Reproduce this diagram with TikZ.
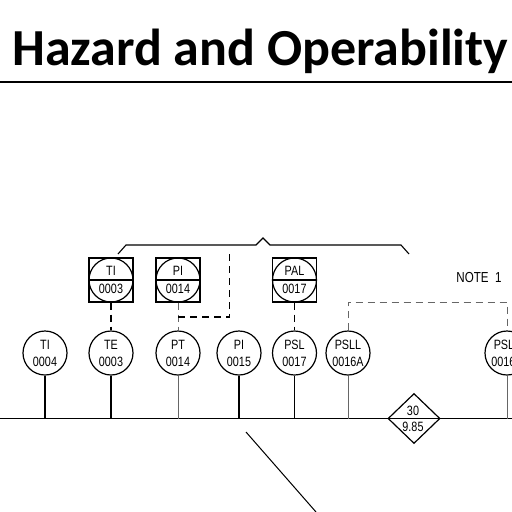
\documentclass[tikz,border=0pt]{standalone}
\usepackage{fontspec}
\setmainfont{Liberation Sans}
\newfontfamily\titlefont{Carlito}[BoldFont=Carlito Bold]
\usetikzlibrary{shapes.geometric}
\newcommand{\tagtext}[2]{\scalebox{0.8}[1]{#1}\\\scalebox{0.8}[1]{#2}}
\tikzset{
  x=1pt,y=-1pt,
  inst/.style={circle,draw,line width=1.2pt,minimum size=44pt,inner sep=0pt,align=center,font=\fontsize{13.5}{17}\selectfont},
  panel/.style={rectangle,draw,line width=1.3pt,minimum size=44pt,inner sep=0pt},
  panelinst/.style={inst,font=\fontsize{13.5}{18}\selectfont},
  stem/.style={line width=1.05pt},
  thinstem/.style={line width=0.8pt,black!60},
  sig/.style={line width=1.05pt,dash pattern=on 7pt off 5pt},
  thinsig/.style={line width=0.9pt,black!60,dash pattern=on 7pt off 5pt},
  bus/.style={line width=1.9pt},
  brace/.style={line width=1.1pt}
}
\begin{document}
\begin{tikzpicture}
\useasboundingbox (0,0) rectangle (512,512);
\clip (0,0) rectangle (512,512);
\node[anchor=base west,inner sep=0pt,font=\titlefont\bfseries\fontsize{52}{52}\selectfont] (title) at (12,65) {Hazard and Operability};
\coordinate (ruleL) at (0,82);
\coordinate (ruleR) at (512,82);
\draw[line width=2.4pt] (ruleL) -- (ruleR);

\coordinate (busL) at (0,418.5);
\coordinate (busR) at (512,418.5);

% field instruments
\node[inst] (ti4) at (45,353) {\tagtext{TI}{0004}};
\node[inst] (te3) at (111,353) {\tagtext{TE}{0003}};
\node[inst] (pt14) at (178,353) {\tagtext{PT}{0014}};
\node[inst] (pi15) at (239,353) {\tagtext{PI}{0015}};
\node[inst] (psl17) at (294.5,353) {\tagtext{PSL}{0017}};
\node[inst] (psll1) at (348,353) {\tagtext{PSLL}{0016A}};
\node[inst] (psll2) at (507,353) {\tagtext{PSLL}{0016B}};

% panel instruments
\node[panel] (sq1) at (111,280) {};
\node[panelinst] (pti3) at (111,280) {\tagtext{TI}{0003}};
\node[panel] (sq2) at (178,280) {};
\node[panelinst] (ppi14) at (178,280) {\tagtext{PI}{0014}};
\node[panel] (sq3) at (294.5,280) {};
\node[panelinst] (ppal17) at (294.5,280) {\tagtext{PAL}{0017}};
\draw[line width=1.5pt] (pti3.west) -- (pti3.east);
\draw[line width=1.5pt] (ppi14.west) -- (ppi14.east);
\draw[line width=1.5pt] (ppal17.west) -- (ppal17.east);

% bus and diamond
\draw[bus] (busL) -- (busR);
\node[diamond,draw,line width=1.2pt,minimum width=52pt,minimum height=50pt,inner sep=0pt,aspect=1] (dia) at (414,418.5) {};
\node[font=\fontsize{13.5}{13.5}\selectfont,inner sep=0pt] (dtop) at (413,411) {\scalebox{0.8}[1]{30}};
\node[font=\fontsize{13.5}{13.5}\selectfont,inner sep=0pt] (dbot) at (413,427) {\scalebox{0.8}[1]{9.85}};

% stems
\draw[stem] (ti4.south) -- (ti4.south |- busL);
\draw[stem] (te3.south) -- (te3.south |- busL);
\draw[thinstem] (pt14.south) -- (pt14.south |- busL);
\draw[stem] (pi15.south) -- (pi15.south |- busL);
\draw[stem] (psl17.south) -- (psl17.south |- busL);
\draw[thinstem] (psll1.south) -- (psll1.south |- busL);
\draw[thinstem] (psll2.south) -- (psll2.south |- busL);

% signal lines
\draw[sig] (sq1.south) -- (te3.north);
\draw[sig] (sq3.south) -- (psl17.north);
\draw[thinsig] (sq2.south) -- (pt14.north);
\coordinate (tap) at (178,317);
\coordinate (tapup) at (229.5,254);
\draw[sig] (tap) -| (tapup);
\coordinate (note) at (348,302);
\draw[thinsig] (psll1.north) |- (psll2.north |- note) -- (psll2.north);
\node[font=\fontsize{14.5}{14.5}\selectfont,inner sep=0pt] (note1) at (479,277.5) {\scalebox{0.8}[1]{NOTE\ \ 1}};

% bracket
\coordinate (b1) at (118,254);
\coordinate (b2) at (126,245);
\coordinate (b3) at (256,245);
\coordinate (b4) at (263,238);
\coordinate (b5) at (270,245);
\coordinate (b6) at (401,245);
\coordinate (b7) at (409,254);
\draw[brace] (b1) -- (b2) -- (b3) -- (b4) -- (b5) -- (b6) -- (b7);

% diagonal
\coordinate (d1) at (246,432);
\coordinate (d2) at (316,512);
\draw[line width=1pt] (d1) -- (d2);
\end{tikzpicture}
\end{document}
